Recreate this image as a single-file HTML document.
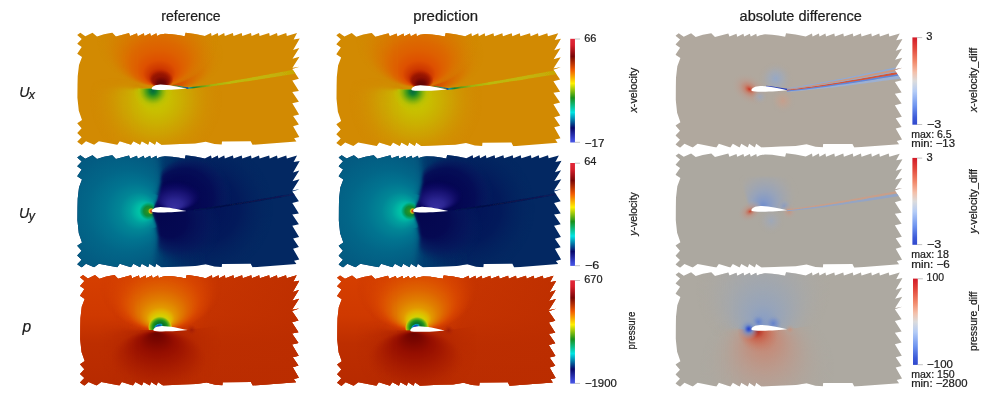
<!DOCTYPE html>
<html><head><meta charset="utf-8"><title>fig</title>
<style>
html,body{margin:0;padding:0;background:#fff;}
body{width:1000px;height:405px;overflow:hidden;font-family:"Liberation Sans",sans-serif;}
svg{display:block;}
text{font-family:"Liberation Sans",sans-serif;fill:#1c1c1c;}
</style></head><body>
<svg width="1000" height="405" viewBox="0 0 1000 405">
<defs>
<clipPath id="dom"><polygon points="77.20,35.10 80.35,32.80 85.30,36.20 92.50,32.80 97.00,36.40 104.00,34.30 112.30,32.80 115.90,36.40 129.00,33.00 130.10,36.00 137.00,33.30 137.70,36.20 143.80,33.30 144.50,36.00 150.10,33.30 151.00,36.00 156.40,33.30 157.00,36.00 160.00,34.60 165.00,33.80 172.00,34.20 178.00,35.00 184.70,36.20 185.60,32.70 195.00,33.90 204.90,35.90 211.00,33.00 211.60,36.00 217.80,33.00 218.40,36.00 224.20,33.00 224.80,36.00 232.90,33.00 233.50,36.00 241.70,33.00 242.30,36.00 251.00,33.00 251.60,36.00 259.00,33.00 259.60,36.00 269.15,33.00 269.75,36.00 277.00,33.00 277.60,36.00 286.25,33.00 286.85,36.00 297.05,33.05 293.60,39.60 299.75,38.45 293.10,49.90 299.30,47.90 292.50,58.70 299.50,56.80 292.30,68.00 299.50,66.70 292.30,69.10 298.90,78.80 292.30,80.60 298.90,90.90 292.30,92.00 298.90,101.70 292.30,103.30 299.10,114.50 293.10,116.10 298.90,124.60 293.10,126.20 299.30,137.00 294.10,138.30 296.40,141.50 252.50,144.85 250.70,141.25 222.00,141.40 221.70,144.60 214.50,144.10 205.70,141.70 195.00,143.40 180.00,143.90 161.50,144.70 156.30,141.20 155.00,144.70 149.40,141.20 148.10,144.70 141.70,141.20 140.10,144.70 133.40,141.20 131.00,144.70 119.70,141.20 117.30,144.70 98.90,141.20 94.10,144.70 86.00,141.20 81.70,144.95 77.20,141.80 81.60,137.20 77.20,133.10 81.60,128.30 77.20,123.20 82.00,120.00 78.80,110.70 77.40,97.80 77.50,85.00 77.70,76.30 79.00,65.00 82.00,57.00 77.20,53.75 81.70,47.00 77.20,43.85 81.70,38.90"/></clipPath>
<filter id="b04" x="-5%" y="-50%" width="110%" height="200%"><feGaussianBlur stdDeviation="0.45"/></filter>
<filter id="b1" filterUnits="userSpaceOnUse" x="0" y="-40" width="340" height="260"><feGaussianBlur stdDeviation="1.2"/></filter>
<filter id="b3" filterUnits="userSpaceOnUse" x="0" y="-40" width="340" height="260"><feGaussianBlur stdDeviation="3"/></filter>
<linearGradient id="jet" gradientUnits="objectBoundingBox" x1="0" y1="0" x2="0" y2="1"><stop offset="0" stop-color="#e2283a" stop-opacity="1"/><stop offset="0.06" stop-color="#d81f2c" stop-opacity="1"/><stop offset="0.17" stop-color="#7a0606" stop-opacity="1"/><stop offset="0.3" stop-color="#f25a00" stop-opacity="1"/><stop offset="0.43" stop-color="#fff000" stop-opacity="1"/><stop offset="0.57" stop-color="#18901a" stop-opacity="1"/><stop offset="0.71" stop-color="#00e4e4" stop-opacity="1"/><stop offset="0.86" stop-color="#07076a" stop-opacity="1"/><stop offset="0.97" stop-color="#3c48d8" stop-opacity="1"/><stop offset="1" stop-color="#4a58e4" stop-opacity="1"/></linearGradient>
<linearGradient id="cw" gradientUnits="objectBoundingBox" x1="0" y1="0" x2="0" y2="1"><stop offset="0" stop-color="#d21a28" stop-opacity="1"/><stop offset="0.12" stop-color="#e2453a" stop-opacity="1"/><stop offset="0.28" stop-color="#f28a6c" stop-opacity="1"/><stop offset="0.4" stop-color="#f4c0aa" stop-opacity="1"/><stop offset="0.5" stop-color="#dcdcdc" stop-opacity="1"/><stop offset="0.62" stop-color="#b4ccf6" stop-opacity="1"/><stop offset="0.78" stop-color="#7096f0" stop-opacity="1"/><stop offset="0.92" stop-color="#3c5ad8" stop-opacity="1"/><stop offset="1" stop-color="#3048cc" stop-opacity="1"/></linearGradient>
<filter id="mb4" filterUnits="userSpaceOnUse" x="0" y="-40" width="340" height="260"><feGaussianBlur stdDeviation="4.5"/></filter>
<filter id="mb1" filterUnits="userSpaceOnUse" x="0" y="-40" width="340" height="260"><feGaussianBlur stdDeviation="1.4"/></filter>
<linearGradient id="fadeL" gradientUnits="userSpaceOnUse" x1="100" y1="0" x2="132" y2="0"><stop offset="0" stop-color="#fff" stop-opacity="0"/><stop offset="1" stop-color="#fff" stop-opacity="1"/></linearGradient>
<mask id="mup" maskUnits="userSpaceOnUse" x="60" y="20" width="250" height="140"><rect x="20" y="-30" width="110" height="118.8" fill="#fff" filter="url(#mb4)"/><rect x="100" y="-30" width="40" height="118.8" fill="url(#fadeL)" filter="url(#mb1)"/><path d="M138,88.75 L151.6,88.6 L186.5,88.4 L186.50,88.40 L191.25,87.86 L195.99,87.29 L200.73,86.70 L205.46,86.08 L210.19,85.44 L214.92,84.78 L219.65,84.09 L224.37,83.39 L229.09,82.67 L233.81,81.93 L238.53,81.18 L243.25,80.41 L247.97,79.63 L252.69,78.85 L257.41,78.05 L262.13,77.24 L266.85,76.43 L271.58,75.62 L276.31,74.80 L281.04,73.98 L285.77,73.15 L290.51,72.33 L295.25,71.51 L300.00,70.70 L306.00,69.70 L306,0 L138,0 Z" fill="#fff"/></mask>
<mask id="mlow" maskUnits="userSpaceOnUse" x="60" y="20" width="250" height="140"><rect x="20" y="88.8" width="110" height="120" fill="#fff" filter="url(#mb4)"/><rect x="100" y="88.8" width="40" height="120" fill="url(#fadeL)" filter="url(#mb1)"/><path d="M138,88.75 L151.6,88.6 L186.5,88.4 L186.50,88.40 L191.25,87.86 L195.99,87.29 L200.73,86.70 L205.46,86.08 L210.19,85.44 L214.92,84.78 L219.65,84.09 L224.37,83.39 L229.09,82.67 L233.81,81.93 L238.53,81.18 L243.25,80.41 L247.97,79.63 L252.69,78.85 L257.41,78.05 L262.13,77.24 L266.85,76.43 L271.58,75.62 L276.31,74.80 L281.04,73.98 L285.77,73.15 L290.51,72.33 L295.25,71.51 L300.00,70.70 L306.00,69.70 L306,180 L138,180 Z" fill="#fff"/></mask>
<radialGradient id="u1a" gradientUnits="userSpaceOnUse" cx="158" cy="40" r="46.5" fx="160" fy="85" gradientTransform="translate(160 85) scale(1.3 1) translate(-160 -85)"><stop offset="0" stop-color="#941400" stop-opacity="1"/><stop offset="0.11" stop-color="#981600" stop-opacity="1"/><stop offset="0.153" stop-color="#be2800" stop-opacity="1"/><stop offset="0.186" stop-color="#ce3800" stop-opacity="1"/><stop offset="0.273" stop-color="#de5000" stop-opacity="1"/><stop offset="0.383" stop-color="#de5f00" stop-opacity="1"/><stop offset="0.49" stop-color="#dc6900" stop-opacity="1"/><stop offset="0.57" stop-color="#da7100" stop-opacity="0.92"/><stop offset="0.76" stop-color="#d67e01" stop-opacity="0.55"/><stop offset="0.9" stop-color="#d48502" stop-opacity="0.2"/><stop offset="1" stop-color="#d28a02" stop-opacity="0"/></radialGradient>
<radialGradient id="u1a3" gradientUnits="userSpaceOnUse" cx="180" cy="54" r="34" fx="177" fy="86.6" gradientTransform="translate(177 86.6) scale(1.25 1) translate(-177 -86.6)"><stop offset="0" stop-color="#d64600" stop-opacity="0.9"/><stop offset="0.25" stop-color="#da5a00" stop-opacity="0.8"/><stop offset="0.55" stop-color="#d96e00" stop-opacity="0.6"/><stop offset="0.8" stop-color="#d67e01" stop-opacity="0.25"/><stop offset="1" stop-color="#d28a02" stop-opacity="0"/></radialGradient>
<radialGradient id="u1b" gradientUnits="userSpaceOnUse" cx="161.5" cy="79.6" r="9.2" fx="161" fy="85.6" gradientTransform="translate(161 85) scale(1.3 1) translate(-161 -85)"><stop offset="0" stop-color="#580404" stop-opacity="1"/><stop offset="0.34" stop-color="#6e0604" stop-opacity="1"/><stop offset="0.62" stop-color="#921202" stop-opacity="0.9"/><stop offset="1" stop-color="#981600" stop-opacity="0"/></radialGradient>
<radialGradient id="u1c" gradientUnits="userSpaceOnUse" cx="156" cy="99" r="66"><stop offset="0" stop-color="#c8c600" stop-opacity="1"/><stop offset="0.2" stop-color="#c8be00" stop-opacity="1"/><stop offset="0.36" stop-color="#cab001" stop-opacity="1"/><stop offset="0.55" stop-color="#cda002" stop-opacity="0.95"/><stop offset="0.75" stop-color="#d09402" stop-opacity="0.6"/><stop offset="1" stop-color="#d28a02" stop-opacity="0"/></radialGradient>
<radialGradient id="u1d" gradientUnits="userSpaceOnUse" cx="153.0" cy="90.8" r="20"><stop offset="0" stop-color="#046840" stop-opacity="1"/><stop offset="0.17" stop-color="#14822c" stop-opacity="1"/><stop offset="0.32" stop-color="#469c18" stop-opacity="1"/><stop offset="0.48" stop-color="#82b00c" stop-opacity="1"/><stop offset="0.68" stop-color="#b4c004" stop-opacity="0.8"/><stop offset="1" stop-color="#c8c600" stop-opacity="0"/></radialGradient>
<linearGradient id="u1w" gradientUnits="userSpaceOnUse" x1="186" y1="0" x2="300" y2="0"><stop offset="0" stop-color="#143ca0" stop-opacity="1"/><stop offset="0.03" stop-color="#0a96aa" stop-opacity="1"/><stop offset="0.07" stop-color="#148232" stop-opacity="1"/><stop offset="0.13" stop-color="#609c1a" stop-opacity="1"/><stop offset="0.22" stop-color="#a0b20e" stop-opacity="1"/><stop offset="0.38" stop-color="#bcba0a" stop-opacity="1"/><stop offset="0.7" stop-color="#c2b40a" stop-opacity="1"/><stop offset="0.9" stop-color="#c6aa06" stop-opacity="1"/><stop offset="1" stop-color="#caa204" stop-opacity="1"/></linearGradient>
<linearGradient id="u1bl" gradientUnits="userSpaceOnUse" x1="170" y1="0" x2="188" y2="0"><stop offset="0" stop-color="#c8780a" stop-opacity="0"/><stop offset="0.3" stop-color="#3c9628" stop-opacity="0.9"/><stop offset="0.65" stop-color="#0a9696" stop-opacity="1"/><stop offset="1" stop-color="#143ca0" stop-opacity="1"/></linearGradient>
<radialGradient id="u2a" gradientUnits="userSpaceOnUse" cx="158" cy="40" r="46.5" fx="160" fy="85" gradientTransform="translate(160 85) scale(1.3 1) translate(-160 -85)"><stop offset="0" stop-color="#941400" stop-opacity="1"/><stop offset="0.11" stop-color="#981600" stop-opacity="1"/><stop offset="0.153" stop-color="#be2800" stop-opacity="1"/><stop offset="0.186" stop-color="#ce3800" stop-opacity="1"/><stop offset="0.273" stop-color="#de5000" stop-opacity="1"/><stop offset="0.383" stop-color="#de5f00" stop-opacity="1"/><stop offset="0.49" stop-color="#dc6900" stop-opacity="1"/><stop offset="0.57" stop-color="#da7100" stop-opacity="0.92"/><stop offset="0.76" stop-color="#d67e01" stop-opacity="0.55"/><stop offset="0.9" stop-color="#d48502" stop-opacity="0.2"/><stop offset="1" stop-color="#d28a02" stop-opacity="0"/></radialGradient>
<radialGradient id="u2a3" gradientUnits="userSpaceOnUse" cx="180" cy="54" r="34" fx="177" fy="86.6" gradientTransform="translate(177 86.6) scale(1.25 1) translate(-177 -86.6)"><stop offset="0" stop-color="#d64600" stop-opacity="0.9"/><stop offset="0.25" stop-color="#da5a00" stop-opacity="0.8"/><stop offset="0.55" stop-color="#d96e00" stop-opacity="0.6"/><stop offset="0.8" stop-color="#d67e01" stop-opacity="0.25"/><stop offset="1" stop-color="#d28a02" stop-opacity="0"/></radialGradient>
<radialGradient id="u2b" gradientUnits="userSpaceOnUse" cx="161.5" cy="79.6" r="9.2" fx="161" fy="85.6" gradientTransform="translate(161 85) scale(1.3 1) translate(-161 -85)"><stop offset="0" stop-color="#580404" stop-opacity="1"/><stop offset="0.34" stop-color="#6e0604" stop-opacity="1"/><stop offset="0.62" stop-color="#921202" stop-opacity="0.9"/><stop offset="1" stop-color="#981600" stop-opacity="0"/></radialGradient>
<radialGradient id="u2c" gradientUnits="userSpaceOnUse" cx="156" cy="99" r="66"><stop offset="0" stop-color="#c8c600" stop-opacity="1"/><stop offset="0.2" stop-color="#c8be00" stop-opacity="1"/><stop offset="0.36" stop-color="#cab001" stop-opacity="1"/><stop offset="0.55" stop-color="#cda002" stop-opacity="0.95"/><stop offset="0.75" stop-color="#d09402" stop-opacity="0.6"/><stop offset="1" stop-color="#d28a02" stop-opacity="0"/></radialGradient>
<radialGradient id="u2d" gradientUnits="userSpaceOnUse" cx="153.0" cy="90.8" r="20"><stop offset="0" stop-color="#046840" stop-opacity="1"/><stop offset="0.17" stop-color="#14822c" stop-opacity="1"/><stop offset="0.32" stop-color="#469c18" stop-opacity="1"/><stop offset="0.48" stop-color="#82b00c" stop-opacity="1"/><stop offset="0.68" stop-color="#b4c004" stop-opacity="0.8"/><stop offset="1" stop-color="#c8c600" stop-opacity="0"/></radialGradient>
<linearGradient id="u2w" gradientUnits="userSpaceOnUse" x1="186" y1="0" x2="300" y2="0"><stop offset="0" stop-color="#143ca0" stop-opacity="1"/><stop offset="0.03" stop-color="#0a96aa" stop-opacity="1"/><stop offset="0.07" stop-color="#148232" stop-opacity="1"/><stop offset="0.13" stop-color="#609c1a" stop-opacity="1"/><stop offset="0.22" stop-color="#a0b20e" stop-opacity="1"/><stop offset="0.38" stop-color="#bcba0a" stop-opacity="1"/><stop offset="0.7" stop-color="#c2b40a" stop-opacity="1"/><stop offset="0.9" stop-color="#c6aa06" stop-opacity="1"/><stop offset="1" stop-color="#caa204" stop-opacity="1"/></linearGradient>
<linearGradient id="u2bl" gradientUnits="userSpaceOnUse" x1="170" y1="0" x2="188" y2="0"><stop offset="0" stop-color="#c8780a" stop-opacity="0"/><stop offset="0.3" stop-color="#3c9628" stop-opacity="0.9"/><stop offset="0.65" stop-color="#0a9696" stop-opacity="1"/><stop offset="1" stop-color="#143ca0" stop-opacity="1"/></linearGradient>
<filter id="mb2" filterUnits="userSpaceOnUse" x="0" y="-40" width="340" height="260"><feGaussianBlur stdDeviation="3.2"/></filter>
<filter id="mb07" filterUnits="userSpaceOnUse" x="0" y="-40" width="340" height="260"><feGaussianBlur stdDeviation="0.7"/></filter>
<clipPath id="nearle"><circle cx="151.6" cy="88.5" r="17"/></clipPath>
<mask id="mleft" maskUnits="userSpaceOnUse" x="60" y="20" width="250" height="140"><path d="M40,-20 L158,-20 L158.5,28 L161,45 L161,60 L157.5,77 L153.4,86 L151.7,88.5 L153.4,93.5 L156.5,102 L158.5,115 L157,135 L155.5,150 L155,190 L40,190 Z" fill="#fff" filter="url(#mb2)"/><g clip-path="url(#nearle)"><path d="M40,-20 L158,-20 L158.5,28 L161,45 L161,60 L157.5,77 L153.4,86 L151.7,88.5 L153.4,93.5 L156.5,102 L158.5,115 L157,135 L155.5,150 L155,190 L40,190 Z" fill="#fff" filter="url(#mb07)"/></g></mask>
<mask id="mright" maskUnits="userSpaceOnUse" x="60" y="20" width="250" height="140"><rect x="60" y="20" width="250" height="140" fill="#fff"/><path d="M40,-20 L158,-20 L158.5,28 L161,45 L161,60 L157.5,77 L153.4,86 L151.7,88.5 L153.4,93.5 L156.5,102 L158.5,115 L157,135 L155.5,150 L155,190 L40,190 Z" fill="#000" filter="url(#mb1)"/></mask>
<linearGradient id="v1t" gradientUnits="userSpaceOnUse" x1="156" y1="0" x2="210" y2="0"><stop offset="0" stop-color="#034676" stop-opacity="0.9"/><stop offset="0.35" stop-color="#033a6e" stop-opacity="0.7"/><stop offset="1" stop-color="#032862" stop-opacity="0"/></linearGradient>
<radialGradient id="v1a" gradientUnits="userSpaceOnUse" cx="110" cy="88.6" r="75" fx="148.3" fy="88.6"><stop offset="0" stop-color="#00ac8c" stop-opacity="1"/><stop offset="0.05" stop-color="#00b696" stop-opacity="1"/><stop offset="0.08" stop-color="#00c4a6" stop-opacity="1"/><stop offset="0.106" stop-color="#00baa5" stop-opacity="1"/><stop offset="0.16" stop-color="#00a09e" stop-opacity="1"/><stop offset="0.25" stop-color="#018696" stop-opacity="1"/><stop offset="0.38" stop-color="#017490" stop-opacity="1"/><stop offset="0.55" stop-color="#026688" stop-opacity="1"/><stop offset="0.75" stop-color="#035c82" stop-opacity="1"/><stop offset="1" stop-color="#05547c" stop-opacity="1"/></radialGradient>
<radialGradient id="v1b" gradientUnits="userSpaceOnUse" cx="148.6" cy="88.6" r="9.5"><stop offset="0" stop-color="#3c961e" stop-opacity="1"/><stop offset="0.3" stop-color="#1e8e28" stop-opacity="1"/><stop offset="0.52" stop-color="#108c38" stop-opacity="1"/><stop offset="0.78" stop-color="#00a46e" stop-opacity="0.8"/><stop offset="1" stop-color="#00b696" stop-opacity="0"/></radialGradient>
<radialGradient id="v1h" gradientUnits="userSpaceOnUse" cx="151.3" cy="88.6" r="3.6"><stop offset="0" stop-color="#c81e14" stop-opacity="1"/><stop offset="0.35" stop-color="#e26e0a" stop-opacity="1"/><stop offset="0.62" stop-color="#cec814" stop-opacity="1"/><stop offset="0.85" stop-color="#5aa01e" stop-opacity="0.7"/><stop offset="1" stop-color="#3c961e" stop-opacity="0"/></radialGradient>
<radialGradient id="v1c" gradientUnits="userSpaceOnUse" cx="192" cy="73" r="40" fx="157" fy="85.4"><stop offset="0" stop-color="#0a0860" stop-opacity="1"/><stop offset="0.2" stop-color="#060658" stop-opacity="1"/><stop offset="0.5" stop-color="#040652" stop-opacity="1"/><stop offset="0.75" stop-color="#050c56" stop-opacity="0.9"/><stop offset="0.9" stop-color="#081a5e" stop-opacity="0.5"/><stop offset="1" stop-color="#032862" stop-opacity="0"/></radialGradient>
<radialGradient id="v1d" gradientUnits="userSpaceOnUse" cx="184" cy="105" r="37" fx="156" fy="91"><stop offset="0" stop-color="#04064e" stop-opacity="1"/><stop offset="0.45" stop-color="#050952" stop-opacity="1"/><stop offset="0.75" stop-color="#08165c" stop-opacity="0.6"/><stop offset="1" stop-color="#032862" stop-opacity="0"/></radialGradient>
<radialGradient id="v1f" gradientUnits="userSpaceOnUse" cx="205" cy="86" r="68"><stop offset="0" stop-color="#030e56" stop-opacity="0.85"/><stop offset="0.5" stop-color="#031458" stop-opacity="0.7"/><stop offset="0.8" stop-color="#03205e" stop-opacity="0.35"/><stop offset="1" stop-color="#032862" stop-opacity="0"/></radialGradient>
<radialGradient id="v1e" gradientUnits="userSpaceOnUse" cx="176" cy="73" r="15" fx="175" fy="85.6" gradientTransform="translate(176 85) scale(1.7 1) translate(-176 -85)"><stop offset="0" stop-color="#3830a0" stop-opacity="1"/><stop offset="0.3" stop-color="#2c2692" stop-opacity="1"/><stop offset="0.6" stop-color="#1a1476" stop-opacity="0.9"/><stop offset="0.85" stop-color="#0c0862" stop-opacity="0.5"/><stop offset="1" stop-color="#060658" stop-opacity="0"/></radialGradient>
<linearGradient id="v1w" gradientUnits="userSpaceOnUse" x1="186" y1="0" x2="300" y2="0"><stop offset="0" stop-color="#07134a" stop-opacity="0"/><stop offset="0.12" stop-color="#07134a" stop-opacity="0.5"/><stop offset="0.3" stop-color="#061048" stop-opacity="1"/><stop offset="0.8" stop-color="#081854" stop-opacity="1"/><stop offset="1" stop-color="#0a225e" stop-opacity="0.9"/></linearGradient>
<linearGradient id="v2t" gradientUnits="userSpaceOnUse" x1="156" y1="0" x2="210" y2="0"><stop offset="0" stop-color="#034676" stop-opacity="0.9"/><stop offset="0.35" stop-color="#033a6e" stop-opacity="0.7"/><stop offset="1" stop-color="#032862" stop-opacity="0"/></linearGradient>
<radialGradient id="v2a" gradientUnits="userSpaceOnUse" cx="110" cy="88.6" r="75" fx="148.3" fy="88.6"><stop offset="0" stop-color="#00ac8c" stop-opacity="1"/><stop offset="0.05" stop-color="#00b696" stop-opacity="1"/><stop offset="0.08" stop-color="#00c4a6" stop-opacity="1"/><stop offset="0.106" stop-color="#00baa5" stop-opacity="1"/><stop offset="0.16" stop-color="#00a09e" stop-opacity="1"/><stop offset="0.25" stop-color="#018696" stop-opacity="1"/><stop offset="0.38" stop-color="#017490" stop-opacity="1"/><stop offset="0.55" stop-color="#026688" stop-opacity="1"/><stop offset="0.75" stop-color="#035c82" stop-opacity="1"/><stop offset="1" stop-color="#05547c" stop-opacity="1"/></radialGradient>
<radialGradient id="v2b" gradientUnits="userSpaceOnUse" cx="148.6" cy="88.6" r="9.5"><stop offset="0" stop-color="#3c961e" stop-opacity="1"/><stop offset="0.3" stop-color="#1e8e28" stop-opacity="1"/><stop offset="0.52" stop-color="#108c38" stop-opacity="1"/><stop offset="0.78" stop-color="#00a46e" stop-opacity="0.8"/><stop offset="1" stop-color="#00b696" stop-opacity="0"/></radialGradient>
<radialGradient id="v2h" gradientUnits="userSpaceOnUse" cx="151.3" cy="88.6" r="3.6"><stop offset="0" stop-color="#c81e14" stop-opacity="1"/><stop offset="0.35" stop-color="#e26e0a" stop-opacity="1"/><stop offset="0.62" stop-color="#cec814" stop-opacity="1"/><stop offset="0.85" stop-color="#5aa01e" stop-opacity="0.7"/><stop offset="1" stop-color="#3c961e" stop-opacity="0"/></radialGradient>
<radialGradient id="v2c" gradientUnits="userSpaceOnUse" cx="192" cy="73" r="40" fx="157" fy="85.4"><stop offset="0" stop-color="#0a0860" stop-opacity="1"/><stop offset="0.2" stop-color="#060658" stop-opacity="1"/><stop offset="0.5" stop-color="#040652" stop-opacity="1"/><stop offset="0.75" stop-color="#050c56" stop-opacity="0.9"/><stop offset="0.9" stop-color="#081a5e" stop-opacity="0.5"/><stop offset="1" stop-color="#032862" stop-opacity="0"/></radialGradient>
<radialGradient id="v2d" gradientUnits="userSpaceOnUse" cx="184" cy="105" r="37" fx="156" fy="91"><stop offset="0" stop-color="#04064e" stop-opacity="1"/><stop offset="0.45" stop-color="#050952" stop-opacity="1"/><stop offset="0.75" stop-color="#08165c" stop-opacity="0.6"/><stop offset="1" stop-color="#032862" stop-opacity="0"/></radialGradient>
<radialGradient id="v2f" gradientUnits="userSpaceOnUse" cx="205" cy="86" r="68"><stop offset="0" stop-color="#030e56" stop-opacity="0.85"/><stop offset="0.5" stop-color="#031458" stop-opacity="0.7"/><stop offset="0.8" stop-color="#03205e" stop-opacity="0.35"/><stop offset="1" stop-color="#032862" stop-opacity="0"/></radialGradient>
<radialGradient id="v2e" gradientUnits="userSpaceOnUse" cx="176" cy="73" r="15" fx="175" fy="85.6" gradientTransform="translate(176 85) scale(1.7 1) translate(-176 -85)"><stop offset="0" stop-color="#3830a0" stop-opacity="1"/><stop offset="0.3" stop-color="#2c2692" stop-opacity="1"/><stop offset="0.6" stop-color="#1a1476" stop-opacity="0.9"/><stop offset="0.85" stop-color="#0c0862" stop-opacity="0.5"/><stop offset="1" stop-color="#060658" stop-opacity="0"/></radialGradient>
<linearGradient id="v2w" gradientUnits="userSpaceOnUse" x1="186" y1="0" x2="300" y2="0"><stop offset="0" stop-color="#07134a" stop-opacity="0"/><stop offset="0.12" stop-color="#07134a" stop-opacity="0.5"/><stop offset="0.3" stop-color="#061048" stop-opacity="1"/><stop offset="0.8" stop-color="#081854" stop-opacity="1"/><stop offset="1" stop-color="#0a225e" stop-opacity="0.9"/></linearGradient>
<linearGradient id="p1g" gradientUnits="userSpaceOnUse" x1="0" y1="30" x2="0" y2="146"><stop offset="0" stop-color="#d63f00" stop-opacity="1"/><stop offset="0.38" stop-color="#cf3900" stop-opacity="1"/><stop offset="0.62" stop-color="#bd2e00" stop-opacity="1"/><stop offset="1" stop-color="#b72a00" stop-opacity="1"/></linearGradient>
<linearGradient id="p1h" gradientUnits="userSpaceOnUse" x1="150" y1="0" x2="300" y2="0"><stop offset="0" stop-color="#c63401" stop-opacity="0"/><stop offset="0.4" stop-color="#bc2e01" stop-opacity="0.6"/><stop offset="1" stop-color="#bb2d00" stop-opacity="0.85"/></linearGradient>
<radialGradient id="p1a" gradientUnits="userSpaceOnUse" cx="159" cy="44" r="46" fx="159" fy="85.4" gradientTransform="translate(159 85.4) scale(1.35 1) translate(-159 -85.4)"><stop offset="0" stop-color="#d7ce00" stop-opacity="1"/><stop offset="0.137" stop-color="#d7cd00" stop-opacity="1"/><stop offset="0.183" stop-color="#e1b400" stop-opacity="1"/><stop offset="0.229" stop-color="#e29800" stop-opacity="1"/><stop offset="0.32" stop-color="#e07e00" stop-opacity="1"/><stop offset="0.434" stop-color="#de6500" stop-opacity="1"/><stop offset="0.55" stop-color="#dc5300" stop-opacity="0.95"/><stop offset="0.65" stop-color="#d94800" stop-opacity="0.8"/><stop offset="0.82" stop-color="#d44000" stop-opacity="0.45"/><stop offset="1" stop-color="#c63401" stop-opacity="0"/></radialGradient>
<radialGradient id="p1c" gradientUnits="userSpaceOnUse" cx="158.5" cy="85.6" r="11.5" gradientTransform="translate(158.5 85.6) scale(1.06 1) translate(-158.5 -85.6)"><stop offset="0" stop-color="#08682c" stop-opacity="1"/><stop offset="0.4" stop-color="#0c7428" stop-opacity="1"/><stop offset="0.62" stop-color="#22961e" stop-opacity="1"/><stop offset="0.8" stop-color="#78b614" stop-opacity="1"/><stop offset="0.92" stop-color="#c8ce0a" stop-opacity="0.9"/><stop offset="1" stop-color="#decc0a" stop-opacity="0"/></radialGradient>
<radialGradient id="p1e" gradientUnits="userSpaceOnUse" cx="156.8" cy="84.8" r="5.4" gradientTransform="rotate(-24 156.8 84.8) translate(156.8 84.8) scale(1 0.56) translate(-156.8 -84.8)"><stop offset="0" stop-color="#1e28a0" stop-opacity="1"/><stop offset="0.4" stop-color="#0e5ac4" stop-opacity="1"/><stop offset="0.7" stop-color="#00a8b0" stop-opacity="1"/><stop offset="1" stop-color="#08783c" stop-opacity="0"/></radialGradient>
<radialGradient id="p1a2" gradientUnits="userSpaceOnUse" cx="160" cy="56" r="52"><stop offset="0" stop-color="#dc5600" stop-opacity="0.85"/><stop offset="0.5" stop-color="#d94a00" stop-opacity="0.65"/><stop offset="0.8" stop-color="#d23e00" stop-opacity="0.3"/><stop offset="1" stop-color="#c63401" stop-opacity="0"/></radialGradient>
<radialGradient id="p1b" gradientUnits="userSpaceOnUse" cx="156" cy="118" r="30" fx="154.5" fy="91.5" gradientTransform="translate(154.5 91.5) scale(1.6 1) translate(-154.5 -91.5)"><stop offset="0" stop-color="#6c0400" stop-opacity="1"/><stop offset="0.14" stop-color="#7a0600" stop-opacity="1"/><stop offset="0.35" stop-color="#940e00" stop-opacity="1"/><stop offset="0.57" stop-color="#a21800" stop-opacity="0.95"/><stop offset="0.8" stop-color="#ac2000" stop-opacity="0.6"/><stop offset="1" stop-color="#b42800" stop-opacity="0"/></radialGradient>
<radialGradient id="p1b2" gradientUnits="userSpaceOnUse" cx="158" cy="102" r="62"><stop offset="0" stop-color="#a01800" stop-opacity="0.75"/><stop offset="0.4" stop-color="#a81e00" stop-opacity="0.6"/><stop offset="0.75" stop-color="#b22600" stop-opacity="0.3"/><stop offset="1" stop-color="#b82b00" stop-opacity="0"/></radialGradient>
<radialGradient id="p1f" gradientUnits="userSpaceOnUse" cx="190.5" cy="88.4" r="5.5"><stop offset="0" stop-color="#9e1a05" stop-opacity="0.85"/><stop offset="1" stop-color="#b42805" stop-opacity="0"/></radialGradient>
<linearGradient id="p2g" gradientUnits="userSpaceOnUse" x1="0" y1="30" x2="0" y2="146"><stop offset="0" stop-color="#d63f00" stop-opacity="1"/><stop offset="0.38" stop-color="#cf3900" stop-opacity="1"/><stop offset="0.62" stop-color="#bd2e00" stop-opacity="1"/><stop offset="1" stop-color="#b72a00" stop-opacity="1"/></linearGradient>
<linearGradient id="p2h" gradientUnits="userSpaceOnUse" x1="150" y1="0" x2="300" y2="0"><stop offset="0" stop-color="#c63401" stop-opacity="0"/><stop offset="0.4" stop-color="#bc2e01" stop-opacity="0.6"/><stop offset="1" stop-color="#bb2d00" stop-opacity="0.85"/></linearGradient>
<radialGradient id="p2a" gradientUnits="userSpaceOnUse" cx="159" cy="44" r="46" fx="159" fy="85.4" gradientTransform="translate(159 85.4) scale(1.35 1) translate(-159 -85.4)"><stop offset="0" stop-color="#d7ce00" stop-opacity="1"/><stop offset="0.137" stop-color="#d7cd00" stop-opacity="1"/><stop offset="0.183" stop-color="#e1b400" stop-opacity="1"/><stop offset="0.229" stop-color="#e29800" stop-opacity="1"/><stop offset="0.32" stop-color="#e07e00" stop-opacity="1"/><stop offset="0.434" stop-color="#de6500" stop-opacity="1"/><stop offset="0.55" stop-color="#dc5300" stop-opacity="0.95"/><stop offset="0.65" stop-color="#d94800" stop-opacity="0.8"/><stop offset="0.82" stop-color="#d44000" stop-opacity="0.45"/><stop offset="1" stop-color="#c63401" stop-opacity="0"/></radialGradient>
<radialGradient id="p2c" gradientUnits="userSpaceOnUse" cx="158.5" cy="85.6" r="11.5" gradientTransform="translate(158.5 85.6) scale(1.06 1) translate(-158.5 -85.6)"><stop offset="0" stop-color="#08682c" stop-opacity="1"/><stop offset="0.4" stop-color="#0c7428" stop-opacity="1"/><stop offset="0.62" stop-color="#22961e" stop-opacity="1"/><stop offset="0.8" stop-color="#78b614" stop-opacity="1"/><stop offset="0.92" stop-color="#c8ce0a" stop-opacity="0.9"/><stop offset="1" stop-color="#decc0a" stop-opacity="0"/></radialGradient>
<radialGradient id="p2e" gradientUnits="userSpaceOnUse" cx="156.8" cy="84.8" r="5.4" gradientTransform="rotate(-24 156.8 84.8) translate(156.8 84.8) scale(1 0.56) translate(-156.8 -84.8)"><stop offset="0" stop-color="#1e28a0" stop-opacity="1"/><stop offset="0.4" stop-color="#0e5ac4" stop-opacity="1"/><stop offset="0.7" stop-color="#00a8b0" stop-opacity="1"/><stop offset="1" stop-color="#08783c" stop-opacity="0"/></radialGradient>
<radialGradient id="p2a2" gradientUnits="userSpaceOnUse" cx="160" cy="56" r="52"><stop offset="0" stop-color="#dc5600" stop-opacity="0.85"/><stop offset="0.5" stop-color="#d94a00" stop-opacity="0.65"/><stop offset="0.8" stop-color="#d23e00" stop-opacity="0.3"/><stop offset="1" stop-color="#c63401" stop-opacity="0"/></radialGradient>
<radialGradient id="p2b" gradientUnits="userSpaceOnUse" cx="156" cy="118" r="30" fx="154.5" fy="91.5" gradientTransform="translate(154.5 91.5) scale(1.6 1) translate(-154.5 -91.5)"><stop offset="0" stop-color="#6c0400" stop-opacity="1"/><stop offset="0.14" stop-color="#7a0600" stop-opacity="1"/><stop offset="0.35" stop-color="#940e00" stop-opacity="1"/><stop offset="0.57" stop-color="#a21800" stop-opacity="0.95"/><stop offset="0.8" stop-color="#ac2000" stop-opacity="0.6"/><stop offset="1" stop-color="#b42800" stop-opacity="0"/></radialGradient>
<radialGradient id="p2b2" gradientUnits="userSpaceOnUse" cx="158" cy="102" r="62"><stop offset="0" stop-color="#a01800" stop-opacity="0.75"/><stop offset="0.4" stop-color="#a81e00" stop-opacity="0.6"/><stop offset="0.75" stop-color="#b22600" stop-opacity="0.3"/><stop offset="1" stop-color="#b82b00" stop-opacity="0"/></radialGradient>
<radialGradient id="p2f" gradientUnits="userSpaceOnUse" cx="190.5" cy="88.4" r="5.5"><stop offset="0" stop-color="#9e1a05" stop-opacity="0.85"/><stop offset="1" stop-color="#b42805" stop-opacity="0"/></radialGradient>
<radialGradient id="e1a" gradientUnits="userSpaceOnUse" cx="149.6" cy="87.6" r="16" gradientTransform="rotate(35 149.6 87.6) translate(149.6 87.6) scale(1.25 0.9) translate(-149.6 -87.6)"><stop offset="0" stop-color="#c83424" stop-opacity="1"/><stop offset="0.11" stop-color="#cc5c46" stop-opacity="0.95"/><stop offset="0.26" stop-color="#c6806c" stop-opacity="0.85"/><stop offset="0.5" stop-color="#be9688" stop-opacity="0.6"/><stop offset="0.75" stop-color="#b8a094" stop-opacity="0.3"/><stop offset="1" stop-color="#b0a89e" stop-opacity="0"/></radialGradient>
<radialGradient id="e1b" gradientUnits="userSpaceOnUse" cx="175.5" cy="77.5" r="17"><stop offset="0" stop-color="#92a8cc" stop-opacity="0.9"/><stop offset="0.45" stop-color="#a0aaba" stop-opacity="0.65"/><stop offset="1" stop-color="#b0a89e" stop-opacity="0"/></radialGradient>
<radialGradient id="e1c" gradientUnits="userSpaceOnUse" cx="182.5" cy="99" r="12"><stop offset="0" stop-color="#c89e8a" stop-opacity="0.9"/><stop offset="0.5" stop-color="#bea494" stop-opacity="0.6"/><stop offset="1" stop-color="#b0a89e" stop-opacity="0"/></radialGradient>
<radialGradient id="e1d" gradientUnits="userSpaceOnUse" cx="160" cy="95" r="8"><stop offset="0" stop-color="#98a8c2" stop-opacity="0.8"/><stop offset="0.5" stop-color="#a6aab0" stop-opacity="0.5"/><stop offset="1" stop-color="#b0a89e" stop-opacity="0"/></radialGradient>
<radialGradient id="e2a" gradientUnits="userSpaceOnUse" cx="150.2" cy="89.8" r="11" gradientTransform="rotate(-30 150.2 89.8) translate(150.2 89.8) scale(1.2 0.9) translate(-150.2 -89.8)"><stop offset="0" stop-color="#c8422e" stop-opacity="1"/><stop offset="0.14" stop-color="#c66e5a" stop-opacity="0.9"/><stop offset="0.4" stop-color="#be9282" stop-opacity="0.7"/><stop offset="0.7" stop-color="#b69e94" stop-opacity="0.4"/><stop offset="1" stop-color="#aca8a0" stop-opacity="0"/></radialGradient>
<radialGradient id="e2b" gradientUnits="userSpaceOnUse" cx="166" cy="76" r="31" fx="163" fy="85.2"><stop offset="0" stop-color="#6c8acc" stop-opacity="1"/><stop offset="0.15" stop-color="#8098ca" stop-opacity="0.95"/><stop offset="0.4" stop-color="#92a2c0" stop-opacity="0.8"/><stop offset="0.7" stop-color="#a0a6b2" stop-opacity="0.5"/><stop offset="1" stop-color="#aca8a0" stop-opacity="0"/></radialGradient>
<radialGradient id="e2b2" gradientUnits="userSpaceOnUse" cx="184" cy="84.5" r="7"><stop offset="0" stop-color="#8096c8" stop-opacity="0.75"/><stop offset="0.6" stop-color="#98a4bc" stop-opacity="0.4"/><stop offset="1" stop-color="#aca8a0" stop-opacity="0"/></radialGradient>
<radialGradient id="e2c" gradientUnits="userSpaceOnUse" cx="188.5" cy="90" r="8"><stop offset="0" stop-color="#c8927c" stop-opacity="0.85"/><stop offset="0.5" stop-color="#bca094" stop-opacity="0.5"/><stop offset="1" stop-color="#aca8a0" stop-opacity="0"/></radialGradient>
<radialGradient id="e2d" gradientUnits="userSpaceOnUse" cx="171" cy="99" r="13"><stop offset="0" stop-color="#9ca8bc" stop-opacity="0.85"/><stop offset="0.5" stop-color="#a6a9b0" stop-opacity="0.5"/><stop offset="1" stop-color="#aca8a0" stop-opacity="0"/></radialGradient>
<radialGradient id="e3a" gradientUnits="userSpaceOnUse" cx="163" cy="48" r="66" fx="163" fy="86"><stop offset="0" stop-color="#7e96ca" stop-opacity="1"/><stop offset="0.08" stop-color="#8b9fc3" stop-opacity="1"/><stop offset="0.2" stop-color="#96a4ba" stop-opacity="1"/><stop offset="0.4" stop-color="#9da6b3" stop-opacity="0.8"/><stop offset="0.65" stop-color="#a4a8ad" stop-opacity="0.4"/><stop offset="0.85" stop-color="#a9a8a7" stop-opacity="0.12"/><stop offset="1" stop-color="#ada9a1" stop-opacity="0"/></radialGradient>
<radialGradient id="e3b" gradientUnits="userSpaceOnUse" cx="167" cy="128" r="66" fx="163" fy="91"><stop offset="0" stop-color="#cc6852" stop-opacity="1"/><stop offset="0.08" stop-color="#c87c68" stop-opacity="1"/><stop offset="0.19" stop-color="#c38d7b" stop-opacity="1"/><stop offset="0.4" stop-color="#bc998b" stop-opacity="0.8"/><stop offset="0.65" stop-color="#b5a196" stop-opacity="0.4"/><stop offset="0.85" stop-color="#b0a69d" stop-opacity="0.12"/><stop offset="1" stop-color="#ada9a1" stop-opacity="0"/></radialGradient>
<radialGradient id="e3c" gradientUnits="userSpaceOnUse" cx="149.0" cy="88.4" r="10.5"><stop offset="0" stop-color="#2842c8" stop-opacity="1"/><stop offset="0.16" stop-color="#405ecc" stop-opacity="1"/><stop offset="0.4" stop-color="#748ec6" stop-opacity="0.85"/><stop offset="0.7" stop-color="#8c9ebe" stop-opacity="0.4"/><stop offset="1" stop-color="#96a4ba" stop-opacity="0"/></radialGradient>
<radialGradient id="e3d" gradientUnits="userSpaceOnUse" cx="158.5" cy="90.8" r="20" fx="157" fy="90.6"><stop offset="0" stop-color="#a6221a" stop-opacity="1"/><stop offset="0.12" stop-color="#ba3a2c" stop-opacity="1"/><stop offset="0.35" stop-color="#c8604a" stop-opacity="0.95"/><stop offset="0.7" stop-color="#c87a64" stop-opacity="0.6"/><stop offset="1" stop-color="#c68874" stop-opacity="0"/></radialGradient>
<radialGradient id="e3e" gradientUnits="userSpaceOnUse" cx="158.5" cy="81.5" r="7.5"><stop offset="0" stop-color="#607ecc" stop-opacity="1"/><stop offset="0.5" stop-color="#7a92c6" stop-opacity="0.8"/><stop offset="1" stop-color="#92a2bc" stop-opacity="0"/></radialGradient>
<radialGradient id="e3f" gradientUnits="userSpaceOnUse" cx="173" cy="83" r="8.5"><stop offset="0" stop-color="#6482cc" stop-opacity="1"/><stop offset="0.5" stop-color="#7e94c6" stop-opacity="0.8"/><stop offset="1" stop-color="#92a2bc" stop-opacity="0"/></radialGradient>
<radialGradient id="e3h" gradientUnits="userSpaceOnUse" cx="189.5" cy="89" r="5.5"><stop offset="0" stop-color="#c8927e" stop-opacity="0.9"/><stop offset="1" stop-color="#ada9a1" stop-opacity="0"/></radialGradient>
</defs>
<rect width="1000" height="405" fill="#fff"/>
<g transform="translate(0.00 0.00) scale(1.0000)"><g clip-path="url(#dom)">
<rect x="70" y="28" width="236" height="122" fill="#d28a02" />
<rect x="60" y="20" width="250" height="140" fill="url(#u1a3)" mask="url(#mup)" />
<rect x="60" y="20" width="250" height="140" fill="url(#u1a)" mask="url(#mup)" />
<rect x="60" y="20" width="250" height="140" fill="url(#u1b)" mask="url(#mup)" />
<rect x="60" y="20" width="250" height="140" fill="url(#u1c)" mask="url(#mlow)" />
<rect x="60" y="20" width="250" height="140" fill="url(#u1d)" mask="url(#mlow)" />
<path d="M186.50,87.70 L191.25,87.10 L195.99,86.47 L200.73,85.81 L205.46,85.13 L210.19,84.43 L214.92,83.70 L219.65,82.96 L224.37,82.19 L229.09,81.41 L233.81,80.61 L238.53,79.79 L243.25,78.97 L247.97,78.13 L252.69,77.28 L257.41,76.42 L262.13,75.55 L266.85,74.68 L271.58,73.80 L276.31,72.92 L281.04,72.03 L285.77,71.15 L290.51,70.27 L295.25,69.39 L300.00,68.51 L306.00,67.43 L306.00,71.97 L300.00,72.89 L295.25,73.64 L290.51,74.40 L285.77,75.16 L281.04,75.92 L276.31,76.68 L271.58,77.44 L266.85,78.19 L262.13,78.94 L257.41,79.68 L252.69,80.42 L247.97,81.14 L243.25,81.86 L238.53,82.56 L233.81,83.25 L229.09,83.93 L224.37,84.59 L219.65,85.23 L214.92,85.85 L210.19,86.45 L205.46,87.03 L200.73,87.59 L195.99,88.12 L191.25,88.62 L186.50,89.10 Z" fill="url(#u1w)" filter="url(#b04)"/>
<path d="M170,85.0 C176,85.9 182,87.0 188,88.0" fill="none" stroke="url(#u1bl)" stroke-width="1.1" filter="url(#b04)"/>
<path d="M292,67.7 L300,66.5" stroke="#d89614" stroke-width="0.8"/>
<path d="M151.6,88.6 C151.8,86.6 155,84.5 160.5,84.4 C168,84.5 178,86.6 186.6,88.6 C180,89.6 168,90.1 158,90 C154,90 151.8,89.6 151.6,88.6 Z" fill="#fff"/>
</g></g>
<g transform="translate(0.00 122.50) scale(1.0000)"><g clip-path="url(#dom)">
<rect x="70" y="28" width="236" height="122" fill="#032862" />
<path d="M156,10 L220,10 L220,36 L190,46 L170,62 L156,84 Z" fill="url(#v1t)" filter="url(#b3)"/>
<path d="M155,97 L172,118 L195,128 L220,136 L220,170 L155,170 Z" fill="url(#v1t)" filter="url(#b3)"/>
<g mask="url(#mleft)"><rect x="70" y="28" width="236" height="122" fill="url(#v1a)" />
<rect x="70" y="28" width="236" height="122" fill="url(#v1b)" />
<rect x="70" y="28" width="236" height="122" fill="url(#v1h)" />
</g>
<g mask="url(#mright)"><rect x="70" y="28" width="236" height="122" fill="url(#v1f)" />
<rect x="60" y="20" width="250" height="140" fill="url(#v1c)" mask="url(#mup)" />
<rect x="60" y="20" width="250" height="140" fill="url(#v1d)" mask="url(#mlow)" />
<rect x="60" y="20" width="250" height="140" fill="url(#v1e)" mask="url(#mup)" />
</g>
<path d="M186.50,88.40 L191.25,87.86 L195.99,87.29 L200.73,86.70 L205.46,86.08 L210.19,85.44 L214.92,84.78 L219.65,84.09 L224.37,83.39 L229.09,82.67 L233.81,81.93 L238.53,81.18 L243.25,80.41 L247.97,79.63 L252.69,78.85 L257.41,78.05 L262.13,77.24 L266.85,76.43 L271.58,75.62 L276.31,74.80 L281.04,73.98 L285.77,73.15 L290.51,72.33 L295.25,71.51 L300.00,70.70 L306.00,69.70" fill="none" stroke="url(#v1w)" stroke-width="1.9" filter="url(#b04)"/>
<path d="M292,67.7 L300,66.5" stroke="#285a96" stroke-width="0.8"/>
<path d="M151.6,88.6 C151.8,86.6 155,84.5 160.5,84.4 C168,84.5 178,86.6 186.6,88.6 C180,89.6 168,90.1 158,90 C154,90 151.8,89.6 151.6,88.6 Z" fill="#fff"/>
</g></g>
<g transform="translate(3.85 242.77) scale(0.9857)"><g clip-path="url(#dom)">
<rect x="70" y="28" width="236" height="122" fill="#c63401" />
<rect x="70" y="28" width="236" height="122" fill="url(#p1g)" />
<rect x="70" y="28" width="236" height="122" fill="url(#p1h)" />
<rect x="60" y="20" width="250" height="140" fill="url(#p1a2)" mask="url(#mup)" />
<rect x="60" y="20" width="250" height="140" fill="url(#p1a)" mask="url(#mup)" />
<rect x="60" y="20" width="250" height="140" fill="url(#p1c)" mask="url(#mup)" />
<rect x="60" y="20" width="250" height="140" fill="url(#p1e)" mask="url(#mup)" />
<rect x="60" y="20" width="250" height="140" fill="url(#p1b2)" mask="url(#mlow)" />
<rect x="60" y="20" width="250" height="140" fill="url(#p1b)" mask="url(#mlow)" />
<rect x="70" y="28" width="236" height="122" fill="url(#p1f)" />
<path d="M292,67.7 L300,66.5" stroke="#dc5a14" stroke-width="0.8"/>
<path d="M151.6,88.6 C151.8,86.6 155,84.5 160.5,84.4 C168,84.5 178,86.6 186.6,88.6 C180,89.6 168,90.1 158,90 C154,90 151.8,89.6 151.6,88.6 Z" fill="#fff"/>
</g></g>
<g transform="translate(258.34 -0.06) scale(1.0095)"><g clip-path="url(#dom)">
<rect x="70" y="28" width="236" height="122" fill="#d28a02" />
<rect x="60" y="20" width="250" height="140" fill="url(#u2a3)" mask="url(#mup)" />
<rect x="60" y="20" width="250" height="140" fill="url(#u2a)" mask="url(#mup)" />
<rect x="60" y="20" width="250" height="140" fill="url(#u2b)" mask="url(#mup)" />
<rect x="60" y="20" width="250" height="140" fill="url(#u2c)" mask="url(#mlow)" />
<rect x="60" y="20" width="250" height="140" fill="url(#u2d)" mask="url(#mlow)" />
<path d="M186.50,87.70 L191.25,87.10 L195.99,86.47 L200.73,85.81 L205.46,85.13 L210.19,84.43 L214.92,83.70 L219.65,82.96 L224.37,82.19 L229.09,81.41 L233.81,80.61 L238.53,79.79 L243.25,78.97 L247.97,78.13 L252.69,77.28 L257.41,76.42 L262.13,75.55 L266.85,74.68 L271.58,73.80 L276.31,72.92 L281.04,72.03 L285.77,71.15 L290.51,70.27 L295.25,69.39 L300.00,68.51 L306.00,67.43 L306.00,71.97 L300.00,72.89 L295.25,73.64 L290.51,74.40 L285.77,75.16 L281.04,75.92 L276.31,76.68 L271.58,77.44 L266.85,78.19 L262.13,78.94 L257.41,79.68 L252.69,80.42 L247.97,81.14 L243.25,81.86 L238.53,82.56 L233.81,83.25 L229.09,83.93 L224.37,84.59 L219.65,85.23 L214.92,85.85 L210.19,86.45 L205.46,87.03 L200.73,87.59 L195.99,88.12 L191.25,88.62 L186.50,89.10 Z" fill="url(#u2w)" filter="url(#b04)"/>
<path d="M170,85.0 C176,85.9 182,87.0 188,88.0" fill="none" stroke="url(#u2bl)" stroke-width="1.1" filter="url(#b04)"/>
<path d="M292,67.7 L300,66.5" stroke="#d89614" stroke-width="0.8"/>
<path d="M151.6,88.6 C151.8,86.6 155,84.5 160.5,84.4 C168,84.5 178,86.6 186.6,88.6 C180,89.6 168,90.1 158,90 C154,90 151.8,89.6 151.6,88.6 Z" fill="#fff"/>
</g></g>
<g transform="translate(261.20 122.30) scale(1.0020)"><g clip-path="url(#dom)">
<rect x="70" y="28" width="236" height="122" fill="#032862" />
<path d="M156,10 L220,10 L220,36 L190,46 L170,62 L156,84 Z" fill="url(#v2t)" filter="url(#b3)"/>
<path d="M155,97 L172,118 L195,128 L220,136 L220,170 L155,170 Z" fill="url(#v2t)" filter="url(#b3)"/>
<g mask="url(#mleft)"><rect x="70" y="28" width="236" height="122" fill="url(#v2a)" />
<rect x="70" y="28" width="236" height="122" fill="url(#v2b)" />
<rect x="70" y="28" width="236" height="122" fill="url(#v2h)" />
</g>
<g mask="url(#mright)"><rect x="70" y="28" width="236" height="122" fill="url(#v2f)" />
<rect x="60" y="20" width="250" height="140" fill="url(#v2c)" mask="url(#mup)" />
<rect x="60" y="20" width="250" height="140" fill="url(#v2d)" mask="url(#mlow)" />
<rect x="60" y="20" width="250" height="140" fill="url(#v2e)" mask="url(#mup)" />
</g>
<path d="M186.50,88.40 L191.25,87.86 L195.99,87.29 L200.73,86.70 L205.46,86.08 L210.19,85.44 L214.92,84.78 L219.65,84.09 L224.37,83.39 L229.09,82.67 L233.81,81.93 L238.53,81.18 L243.25,80.41 L247.97,79.63 L252.69,78.85 L257.41,78.05 L262.13,77.24 L266.85,76.43 L271.58,75.62 L276.31,74.80 L281.04,73.98 L285.77,73.15 L290.51,72.33 L295.25,71.51 L300.00,70.70 L306.00,69.70" fill="none" stroke="url(#v2w)" stroke-width="1.9" filter="url(#b04)"/>
<path d="M292,67.7 L300,66.5" stroke="#285a96" stroke-width="0.8"/>
<path d="M151.6,88.6 C151.8,86.6 155,84.5 160.5,84.4 C168,84.5 178,86.6 186.6,88.6 C180,89.6 168,90.1 158,90 C154,90 151.8,89.6 151.6,88.6 Z" fill="#fff"/>
</g></g>
<g transform="translate(261.00 243.20) scale(0.9845)"><g clip-path="url(#dom)">
<rect x="70" y="28" width="236" height="122" fill="#c63401" />
<rect x="70" y="28" width="236" height="122" fill="url(#p2g)" />
<rect x="70" y="28" width="236" height="122" fill="url(#p2h)" />
<rect x="60" y="20" width="250" height="140" fill="url(#p2a2)" mask="url(#mup)" />
<rect x="60" y="20" width="250" height="140" fill="url(#p2a)" mask="url(#mup)" />
<rect x="60" y="20" width="250" height="140" fill="url(#p2c)" mask="url(#mup)" />
<rect x="60" y="20" width="250" height="140" fill="url(#p2e)" mask="url(#mup)" />
<rect x="60" y="20" width="250" height="140" fill="url(#p2b2)" mask="url(#mlow)" />
<rect x="60" y="20" width="250" height="140" fill="url(#p2b)" mask="url(#mlow)" />
<rect x="70" y="28" width="236" height="122" fill="url(#p2f)" />
<path d="M292,67.7 L300,66.5" stroke="#dc5a14" stroke-width="0.8"/>
<path d="M151.6,88.6 C151.8,86.6 155,84.5 160.5,84.4 C168,84.5 178,86.6 186.6,88.6 C180,89.6 168,90.1 158,90 C154,90 151.8,89.6 151.6,88.6 Z" fill="#fff"/>
</g></g>
<g transform="translate(596.74 -0.16) scale(1.0200)"><g clip-path="url(#dom)">
<rect x="70" y="28" width="236" height="122" fill="#b0a89e" />
<rect x="70" y="28" width="236" height="122" fill="url(#e1a)" />
<rect x="60" y="20" width="250" height="140" fill="url(#e1b)" mask="url(#mup)" />
<rect x="60" y="20" width="250" height="140" fill="url(#e1c)" mask="url(#mlow)" />
<rect x="60" y="20" width="250" height="140" fill="url(#e1d)" mask="url(#mlow)" />
<path d="M166,85.0 C174,85.9 182,87.2 190,88.3" fill="none" stroke="#2a40b8" stroke-width="1.5" filter="url(#b04)"/>
<g filter="url(#b04)"><path d="M186.50,89.12 L191.25,88.68 L195.99,88.21 L200.73,87.71 L205.46,87.19 L210.19,86.65 L214.92,86.08 L219.65,85.49 L224.37,84.88 L229.09,84.26 L233.81,83.62 L238.53,82.96 L243.25,82.29 L247.97,81.61 L252.69,80.92 L257.41,80.22 L262.13,79.51 L266.85,78.80 L271.58,78.08 L276.31,77.36 L281.04,76.63 L285.77,75.91 L290.51,75.18 L295.25,74.46 L300.00,73.74 L306.00,72.87 L306.00,76.09 L300.00,76.86 L295.25,77.50 L290.51,78.14 L285.77,78.78 L281.04,79.43 L276.31,80.07 L271.58,80.72 L266.85,81.36 L262.13,81.99 L257.41,82.62 L252.69,83.24 L247.97,83.85 L243.25,84.45 L238.53,85.04 L233.81,85.62 L229.09,86.18 L224.37,86.72 L219.65,87.25 L214.92,87.76 L210.19,88.25 L205.46,88.71 L200.73,89.15 L195.99,89.57 L191.25,89.96 L186.50,90.32 Z" fill="#9cb0d2"/><path d="M186.50,88.75 L191.25,88.24 L195.99,87.71 L200.73,87.15 L205.46,86.57 L210.19,85.96 L214.92,85.33 L219.65,84.68 L224.37,84.01 L229.09,83.32 L233.81,82.61 L238.53,81.89 L243.25,81.16 L247.97,80.42 L252.69,79.66 L257.41,78.90 L262.13,78.13 L266.85,77.35 L271.58,76.57 L276.31,75.78 L281.04,74.99 L285.77,74.20 L290.51,73.42 L295.25,72.63 L300.00,71.85 L306.00,70.89 L306.00,72.78 L300.00,73.70 L295.25,74.45 L290.51,75.20 L285.77,75.96 L281.04,76.71 L276.31,77.47 L271.58,78.23 L266.85,78.98 L262.13,79.72 L257.41,80.46 L252.69,81.20 L247.97,81.92 L243.25,82.64 L238.53,83.34 L233.81,84.02 L229.09,84.70 L224.37,85.35 L219.65,85.99 L214.92,86.61 L210.19,87.21 L205.46,87.79 L200.73,88.34 L195.99,88.87 L191.25,89.38 L186.50,89.85 Z" fill="#5f86dc"/><path d="M186.50,87.85 L191.25,87.30 L195.99,86.72 L200.73,86.11 L205.46,85.48 L210.19,84.82 L214.92,84.15 L219.65,83.45 L224.37,82.73 L229.09,82.00 L233.81,81.25 L238.53,80.48 L243.25,79.70 L247.97,78.91 L252.69,78.11 L257.41,77.30 L262.13,76.48 L266.85,75.66 L271.58,74.83 L276.31,73.99 L281.04,73.16 L285.77,72.32 L290.51,71.49 L295.25,70.66 L300.00,69.83 L306.00,68.81 L306.00,71.04 L300.00,72.00 L295.25,72.78 L290.51,73.57 L285.77,74.36 L281.04,75.15 L276.31,75.94 L271.58,76.73 L266.85,77.51 L262.13,78.29 L257.41,79.07 L252.69,79.83 L247.97,80.59 L243.25,81.34 L238.53,82.07 L233.81,82.79 L229.09,83.50 L224.37,84.19 L219.65,84.86 L214.92,85.51 L210.19,86.15 L205.46,86.76 L200.73,87.34 L195.99,87.91 L191.25,88.44 L186.50,88.95 Z" fill="#d2543a"/><path d="M186.50,87.73 L191.25,87.13 L195.99,86.50 L200.73,85.85 L205.46,85.17 L210.19,84.46 L214.92,83.74 L219.65,82.99 L224.37,82.23 L229.09,81.45 L233.81,80.65 L238.53,79.83 L243.25,79.01 L247.97,78.17 L252.69,77.32 L257.41,76.46 L262.13,75.59 L266.85,74.72 L271.58,73.84 L276.31,72.96 L281.04,72.08 L285.77,71.20 L290.51,70.32 L295.25,69.44 L300.00,68.56 L306.00,67.48 L306.00,68.88 L300.00,69.91 L295.25,70.75 L290.51,71.60 L285.77,72.44 L281.04,73.29 L276.31,74.14 L271.58,74.98 L266.85,75.83 L262.13,76.66 L257.41,77.49 L252.69,78.32 L247.97,79.13 L243.25,79.93 L238.53,80.72 L233.81,81.50 L229.09,82.27 L224.37,83.01 L219.65,83.74 L214.92,84.45 L210.19,85.14 L205.46,85.81 L200.73,86.45 L195.99,87.07 L191.25,87.66 L186.50,88.23 Z" fill="#9aa9c8"/><path d="M186.50,87.18 L191.25,86.52 L195.99,85.84 L200.73,85.13 L205.46,84.39 L210.19,83.64 L214.92,82.85 L219.65,82.05 L224.37,81.23 L229.09,80.40 L233.81,79.54 L238.53,78.67 L243.25,77.79 L247.97,76.90 L252.69,75.99 L257.41,75.08 L262.13,74.16 L266.85,73.23 L271.58,72.30 L276.31,71.36 L281.04,70.42 L285.77,69.48 L290.51,68.55 L295.25,67.61 L300.00,66.68 L306.00,65.53 L306.00,67.58 L300.00,68.66 L295.25,69.53 L290.51,70.42 L285.77,71.30 L281.04,72.19 L276.31,73.07 L271.58,73.95 L266.85,74.83 L262.13,75.71 L257.41,76.58 L252.69,77.44 L247.97,78.29 L243.25,79.13 L238.53,79.96 L233.81,80.78 L229.09,81.58 L224.37,82.36 L219.65,83.13 L214.92,83.87 L210.19,84.60 L205.46,85.31 L200.73,85.99 L195.99,86.65 L191.25,87.28 L186.50,87.88 Z" fill="#cc9880"/><path d="M186.50,86.58 L191.25,85.87 L195.99,85.13 L200.73,84.37 L205.46,83.58 L210.19,82.77 L214.92,81.93 L219.65,81.08 L224.37,80.21 L229.09,79.32 L233.81,78.41 L238.53,77.49 L243.25,76.55 L247.97,75.60 L252.69,74.65 L257.41,73.68 L262.13,72.70 L266.85,71.72 L271.58,70.74 L276.31,69.75 L281.04,68.76 L285.77,67.76 L290.51,66.77 L295.25,65.78 L300.00,64.80 L306.00,63.58 L306.00,65.18 L300.00,66.35 L295.25,67.30 L290.51,68.25 L285.77,69.21 L281.04,70.17 L276.31,71.12 L271.58,72.08 L266.85,73.03 L262.13,73.97 L257.41,74.91 L252.69,75.84 L247.97,76.77 L243.25,77.68 L238.53,78.58 L233.81,79.46 L229.09,80.34 L224.37,81.19 L219.65,82.03 L214.92,82.85 L210.19,83.65 L205.46,84.42 L200.73,85.18 L195.99,85.90 L191.25,86.61 L186.50,87.28 Z" fill="#8eaad6"/></g>
<path d="M292,67.7 L300,66.5" stroke="#d29682" stroke-width="0.8"/>
<path d="M151.6,88.6 C151.8,86.6 155,84.5 160.5,84.4 C168,84.5 178,86.6 186.6,88.6 C180,89.6 168,90.1 158,90 C154,90 151.8,89.6 151.6,88.6 Z" fill="#fff"/>
</g></g>
<g transform="translate(596.74 119.94) scale(1.0200)"><g clip-path="url(#dom)">
<rect x="70" y="28" width="236" height="122" fill="#aca8a0" />
<path d="M150.6,88.6 L141,56 L203,56 L189,88.4 Z" fill="url(#e2b)" filter="url(#b1)"/>
<rect x="60" y="20" width="250" height="140" fill="url(#e2b2)" mask="url(#mup)" />
<rect x="60" y="20" width="250" height="140" fill="url(#e2d)" mask="url(#mlow)" />
<rect x="70" y="28" width="236" height="122" fill="url(#e2a)" />
<rect x="70" y="28" width="236" height="122" fill="url(#e2c)" />
<g filter="url(#b04)"><path d="M186.50,88.37 L191.25,87.86 L195.99,87.32 L200.73,86.75 L205.46,86.16 L210.19,85.55 L214.92,84.91 L219.65,84.26 L224.37,83.58 L229.09,82.89 L233.81,82.18 L238.53,81.46 L243.25,80.72 L247.97,79.97 L252.69,79.21 L257.41,78.44 L262.13,77.66 L266.85,76.88 L271.58,76.09 L276.31,75.30 L281.04,74.51 L285.77,73.71 L290.51,72.92 L295.25,72.13 L300.00,71.34 L306.00,70.38 L306.00,73.15 L300.00,74.03 L295.25,74.76 L290.51,75.49 L285.77,76.22 L281.04,76.95 L276.31,77.68 L271.58,78.41 L266.85,79.13 L262.13,79.86 L257.41,80.57 L252.69,81.28 L247.97,81.98 L243.25,82.66 L238.53,83.34 L233.81,84.00 L229.09,84.65 L224.37,85.28 L219.65,85.89 L214.92,86.49 L210.19,87.06 L205.46,87.61 L200.73,88.14 L195.99,88.64 L191.25,89.12 L186.50,89.57 Z" fill="#94a4c4"/><path d="M186.50,87.63 L191.25,87.04 L195.99,86.42 L200.73,85.77 L205.46,85.10 L210.19,84.41 L214.92,83.69 L219.65,82.96 L224.37,82.20 L229.09,81.43 L233.81,80.64 L238.53,79.83 L243.25,79.01 L247.97,78.18 L252.69,77.34 L257.41,76.49 L262.13,75.64 L266.85,74.77 L271.58,73.90 L276.31,73.03 L281.04,72.16 L285.77,71.28 L290.51,70.41 L295.25,69.54 L300.00,68.67 L306.00,67.61 L306.00,69.84 L300.00,70.84 L295.25,71.66 L290.51,72.49 L285.77,73.31 L281.04,74.14 L276.31,74.96 L271.58,75.78 L266.85,76.60 L262.13,77.42 L257.41,78.23 L252.69,79.03 L247.97,79.82 L243.25,80.60 L238.53,81.37 L233.81,82.12 L229.09,82.87 L224.37,83.59 L219.65,84.30 L214.92,84.99 L210.19,85.65 L205.46,86.30 L200.73,86.92 L195.99,87.52 L191.25,88.09 L186.50,88.63 Z" fill="#c89e8a"/></g>
<path d="M292,67.7 L300,66.5" stroke="#bea096" stroke-width="0.8"/>
<path d="M151.6,88.6 C151.8,86.6 155,84.5 160.5,84.4 C168,84.5 178,86.6 186.6,88.6 C180,89.6 168,90.1 158,90 C154,90 151.8,89.6 151.6,88.6 Z" fill="#fff"/>
</g></g>
<g transform="translate(596.74 238.84) scale(1.0200)"><g clip-path="url(#dom)">
<rect x="70" y="28" width="236" height="122" fill="#ada9a1" />
<rect x="60" y="20" width="250" height="140" fill="url(#e3a)" mask="url(#mup)" />
<rect x="60" y="20" width="250" height="140" fill="url(#e3b)" mask="url(#mlow)" />
<rect x="60" y="20" width="250" height="140" fill="url(#e3e)" mask="url(#mup)" />
<rect x="60" y="20" width="250" height="140" fill="url(#e3f)" mask="url(#mup)" />
<rect x="60" y="20" width="250" height="140" fill="url(#e3d)" mask="url(#mlow)" />
<rect x="70" y="28" width="236" height="122" fill="url(#e3c)" />
<rect x="70" y="28" width="236" height="122" fill="url(#e3h)" />
<path d="M292,67.7 L300,66.5" stroke="#beaaa0" stroke-width="0.8"/>
<path d="M151.6,88.6 C151.8,86.6 155,84.5 160.5,84.4 C168,84.5 178,86.6 186.6,88.6 C180,89.6 168,90.1 158,90 C154,90 151.8,89.6 151.6,88.6 Z" fill="#fff"/>
</g></g>
<g opacity="0.999">
<text x="161.25" y="21.2" font-size="14" textLength="59.45" lengthAdjust="spacingAndGlyphs" stroke="#1c1c1c" stroke-width="0.22" >reference</text>
<text x="413.3" y="21.2" font-size="14" textLength="64.8" lengthAdjust="spacingAndGlyphs" stroke="#1c1c1c" stroke-width="0.22" >prediction</text>
<text x="739.6" y="21.1" font-size="14" textLength="122.3" lengthAdjust="spacingAndGlyphs" stroke="#1c1c1c" stroke-width="0.22" >absolute difference</text>
<text x="19.2" y="96.9" font-size="14.2" font-style="italic" stroke="#1c1c1c" stroke-width="0.22">U<tspan font-size="12.4" dy="1.9" dx="-0.6">x</tspan></text>
<text x="19.0" y="218.4" font-size="14.2" font-style="italic" stroke="#1c1c1c" stroke-width="0.22">U<tspan font-size="12.4" dy="1.8" dx="-0.6">y</tspan></text>
<text x="22.4" y="331.9" font-size="15.6" font-style="italic" stroke="#1c1c1c" stroke-width="0.22">p</text>
<rect x="570.25" y="38.8" width="4.7" height="103.7" fill="url(#jet)"/>
<rect x="574.95" y="38.5" width="5.1" height="1" fill="#c4c4c4"/>
<rect x="574.95" y="141.8" width="5.1" height="1" fill="#c4c4c4"/>
<rect x="570.25" y="163.0" width="4.7" height="102.9" fill="url(#jet)"/>
<rect x="574.95" y="162.7" width="5.1" height="1" fill="#c4c4c4"/>
<rect x="574.95" y="265.2" width="5.1" height="1" fill="#c4c4c4"/>
<rect x="570.25" y="280.3" width="4.7" height="103.3" fill="url(#jet)"/>
<rect x="574.95" y="280.0" width="5.1" height="1" fill="#c4c4c4"/>
<rect x="574.95" y="382.90000000000003" width="5.1" height="1" fill="#c4c4c4"/>
<text x="584.25" y="41.95" font-size="10.8" textLength="12.25" lengthAdjust="spacingAndGlyphs" stroke="#1c1c1c" stroke-width="0.22" >66</text>
<text x="584.8" y="146.8" font-size="10.8" textLength="19.6" lengthAdjust="spacingAndGlyphs" stroke="#1c1c1c" stroke-width="0.22" >−17</text>
<text x="584.25" y="165.3" font-size="10.8" textLength="12.25" lengthAdjust="spacingAndGlyphs" stroke="#1c1c1c" stroke-width="0.22" >64</text>
<text x="584.9" y="268.5" font-size="10.8" textLength="14.3" lengthAdjust="spacingAndGlyphs" stroke="#1c1c1c" stroke-width="0.22" >−6</text>
<text x="584.2" y="282.7" font-size="10.8" textLength="18.3" lengthAdjust="spacingAndGlyphs" stroke="#1c1c1c" stroke-width="0.22" >670</text>
<text x="584.9" y="386.5" font-size="10.8" textLength="31.9" lengthAdjust="spacingAndGlyphs" stroke="#1c1c1c" stroke-width="0.22" >−1900</text>
<rect x="912.4" y="37.4" width="4.7" height="87.3" fill="url(#cw)"/>
<rect x="917.1" y="37.1" width="5.1" height="1" fill="#c4c4c4"/>
<rect x="917.1" y="124.0" width="5.1" height="1" fill="#c4c4c4"/>
<rect x="912.4" y="157.9" width="4.7" height="86.9" fill="url(#cw)"/>
<rect x="917.1" y="157.6" width="5.1" height="1" fill="#c4c4c4"/>
<rect x="917.1" y="244.10000000000002" width="5.1" height="1" fill="#c4c4c4"/>
<rect x="913.0" y="278.6" width="4.8" height="86.3" fill="url(#cw)"/>
<rect x="917.8" y="278.3" width="5.1" height="1" fill="#c4c4c4"/>
<rect x="917.8" y="364.2" width="5.1" height="1" fill="#c4c4c4"/>
<text x="926.3" y="39.8" font-size="10.8" textLength="6.2" lengthAdjust="spacingAndGlyphs" stroke="#1c1c1c" stroke-width="0.22" >3</text>
<text x="926.9" y="127.6" font-size="10.8" textLength="14.3" lengthAdjust="spacingAndGlyphs" stroke="#1c1c1c" stroke-width="0.22" >−3</text>
<text x="911.2" y="137.5" font-size="10.6" textLength="40.5" lengthAdjust="spacingAndGlyphs" stroke="#1c1c1c" stroke-width="0.22" >max: 6.5</text>
<text x="911.2" y="147.0" font-size="10.6" textLength="43.8" lengthAdjust="spacingAndGlyphs" stroke="#1c1c1c" stroke-width="0.22" >min: −13</text>
<text x="926.4" y="161.3" font-size="10.8" textLength="6.2" lengthAdjust="spacingAndGlyphs" stroke="#1c1c1c" stroke-width="0.22" >3</text>
<text x="926.9" y="247.8" font-size="10.8" textLength="14.3" lengthAdjust="spacingAndGlyphs" stroke="#1c1c1c" stroke-width="0.22" >−3</text>
<text x="911.2" y="258.2" font-size="10.6" textLength="37.7" lengthAdjust="spacingAndGlyphs" stroke="#1c1c1c" stroke-width="0.22" >max: 18</text>
<text x="911.2" y="268.0" font-size="10.6" textLength="38.5" lengthAdjust="spacingAndGlyphs" stroke="#1c1c1c" stroke-width="0.22" >min: −6</text>
<text x="926.6" y="281.3" font-size="10.8" textLength="17.4" lengthAdjust="spacingAndGlyphs" stroke="#1c1c1c" stroke-width="0.22" >100</text>
<text x="927.1" y="368.3" font-size="10.8" textLength="25.8" lengthAdjust="spacingAndGlyphs" stroke="#1c1c1c" stroke-width="0.22" >−100</text>
<text x="911.2" y="377.9" font-size="10.6" textLength="43.45" lengthAdjust="spacingAndGlyphs" stroke="#1c1c1c" stroke-width="0.22" >max: 150</text>
<text x="911.2" y="387.4" font-size="10.6" textLength="56.3" lengthAdjust="spacingAndGlyphs" stroke="#1c1c1c" stroke-width="0.22" >min: −2800</text>
<text x="637.2" y="112.5" font-size="10.6" textLength="44.8" lengthAdjust="spacingAndGlyphs" transform="rotate(-90 637.2 112.5)" stroke="#1c1c1c" stroke-width="0.22"><tspan font-style="italic">x</tspan>-velocity</text>
<text x="637.2" y="235.8" font-size="10.6" textLength="43.6" lengthAdjust="spacingAndGlyphs" transform="rotate(-90 637.2 235.8)" stroke="#1c1c1c" stroke-width="0.22"><tspan font-style="italic">y</tspan>-velocity</text>
<text x="635.4" y="349.4" font-size="10.6" textLength="37.8" lengthAdjust="spacingAndGlyphs" transform="rotate(-90 635.4 349.4)" stroke="#1c1c1c" stroke-width="0.22">pressure</text>
<text x="977.5" y="112.1" font-size="10.6" textLength="64.4" lengthAdjust="spacingAndGlyphs" transform="rotate(-90 977.5 112.1)" stroke="#1c1c1c" stroke-width="0.22"><tspan font-style="italic">x</tspan>-velocity_diff</text>
<text x="977.5" y="233.6" font-size="10.6" textLength="64.6" lengthAdjust="spacingAndGlyphs" transform="rotate(-90 977.5 233.6)" stroke="#1c1c1c" stroke-width="0.22"><tspan font-style="italic">y</tspan>-velocity_diff</text>
<text x="977.5" y="351.1" font-size="10.6" textLength="59.6" lengthAdjust="spacingAndGlyphs" transform="rotate(-90 977.5 351.1)" stroke="#1c1c1c" stroke-width="0.22">pressure_diff</text>
</g>
</svg>
</body></html>
